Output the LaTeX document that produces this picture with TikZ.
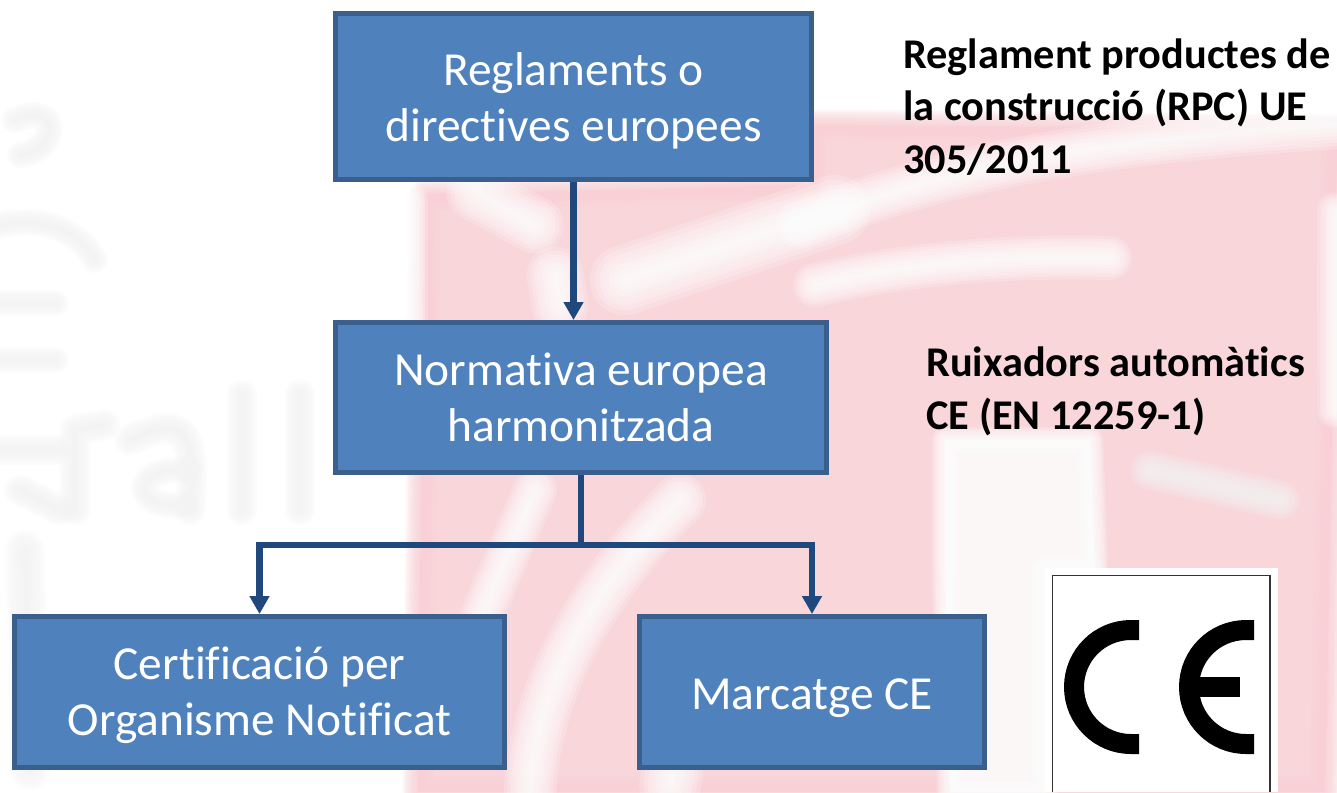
\documentclass[tikz,border=0pt]{standalone}
\usepackage{fontspec}
\setmainfont{Carlito}[Ligatures=NoCommon]
\usetikzlibrary{arrows.meta}

\definecolor{boxfill}{HTML}{4F81BD}
\definecolor{boxline}{HTML}{3A5F8D}
\definecolor{linkblue}{HTML}{1F497D}
\definecolor{wash}{HTML}{F8D0D5}
\definecolor{ghost}{HTML}{F3F3F3}

% soft edged stroke for the faded background
\newcommand{\softline}[3]{%
  \foreach \f in {2.2,1.9,1.6,1.3,1.0,0.7,0.4,0.2}
    \draw[#1,opacity=0.2,line width=\f*#2*0.02cm,line cap=round,line join=round] #3;
}
\newcommand{\lift}[1]{\rule{0pt}{#1}}

\tikzset{
  box/.style={draw=boxline,fill=boxfill,line width=0.1cm,text=white,align=center,
    font=\fontsize{27}{32}\selectfont,inner sep=0pt},
  side/.style={anchor=west,align=left,font=\fontsize{24.1}{30}\selectfont\bfseries,inner sep=0pt},
  link/.style={draw=linkblue,line width=0.13cm},
  tip/.style={-{Triangle[length=0.36cm,width=0.38cm]}}
}

\begin{document}
\begin{tikzpicture}[x=0.02cm,y=-0.02cm]

\useasboundingbox (0,0) rectangle (1337,792);
\fill[white] (0,0) rectangle (1337,792);

% background
\begin{scope}
\clip (0,0) rectangle (1337,792);
\softline{wash,fill=wash}{14}{(425,195) -- (810,185) -- (810,125) -- (1337,130) -- (1325,792) -- (418,792) -- cycle}
\softline{white,fill=white}{12}{(945,440) -- (1090,440) -- (1095,568) -- (1045,568) -- (1045,792) -- (950,792) -- (945,560) -- cycle}
\softline{white}{26}{(475,192) -- (535,225)}
\softline{white}{26}{(555,275) -- (560,305)}
\softline{white}{32}{(625,280) -- (835,210)}
\softline{white}{22}{(800,225) .. controls (950,165) and (1100,140) .. (1337,125)}
\softline{white}{20}{(815,285) .. controls (900,265) and (1000,255) .. (1110,258)}
\softline{white}{16}{(410,320) -- (410,200)}
\softline{white}{16}{(1335,210) -- (1335,410)}
\softline{white}{24}{(530,792) .. controls (535,690) and (590,590) .. (680,500)}
\softline{white}{20}{(535,490) -- (478,625)}
\softline{white}{28}{(670,785) -- (672,775)}
\softline{ghost}{18}{(1150,470) -- (1280,500)}
\softline{ghost}{12}{(15,120) .. controls (60,100) and (60,150) .. (20,155)}
\softline{ghost}{12}{(0,225) .. controls (50,215) and (80,235) .. (95,260)}
\softline{ghost}{12}{(0,303) -- (55,303)}
\softline{ghost}{12}{(0,360) -- (55,360)}
\softline{ghost}{14}{(0,450) -- (55,450)}
\softline{ghost}{14}{(20,490) -- (60,510)}
\softline{ghost}{14}{(75,510) -- (75,430) -- (105,425)}
\softline{ghost}{14}{(130,440) .. controls (190,410) and (195,440) .. (190,510)}
\softline{ghost}{12}{(190,470) .. controls (130,465) and (130,510) .. (185,505)}
\softline{ghost}{14}{(242,395) -- (242,510)}
\softline{ghost}{14}{(300,395) -- (300,510)}
\softline{ghost}{18}{(25,550) -- (30,770)}
\end{scope}

% boxes
\node[box,minimum width=9.52cm,minimum height=3.32cm] (reglaments) at (573.5,96.5) {\lift{24pt}Reglaments o\\directives europees};
\node[box,minimum width=9.82cm,minimum height=3.0cm] (normativa) at (581,397.5) {Normativa europea\\harmonitzada};
\node[box,minimum width=9.8cm,minimum height=3.02cm] (certificacio) at (259.5,692) {\lift{22pt}Certificació per\\Organisme Notificat};
\node[box,minimum width=6.9cm,minimum height=3.02cm] (marcatge) at (812,692) {\lift{24pt}Marcatge CE};

% side texts
\node[side] (rpc) at (903,107) {Reglament productes de\\la construcció (RPC) UE\\305/2011};
\node[side] (ruixadors) at (926,391) {Ruixadors automàtics\\CE (EN 12259-1)};

% links
\coordinate (fork) at (581,545);
\draw[link,tip] (reglaments.south) -- (reglaments.south |- normativa.north);
\draw[link] (normativa.south) -- (fork);
\draw[link,tip] (fork) -| (certificacio.north);
\draw[link,tip] (fork) -| (marcatge.north);

% CE mark
\fill[white] (1045,568) rectangle (1278,792);
\draw[black!60!gray,line width=0.03cm] (1052.5,792) -- (1052.5,575.5) -- (1270,575.5) -- (1270,792);
\draw[black,line width=0.4cm] (1139,630) -- (1131,630) arc (270:90:57) -- (1139,744);
\draw[black,line width=0.4cm] (1254,630) -- (1246,630) arc (270:90:57) -- (1254,744);
\fill[black] (1195,677) rectangle (1240,697);

\end{tikzpicture}
\end{document}
